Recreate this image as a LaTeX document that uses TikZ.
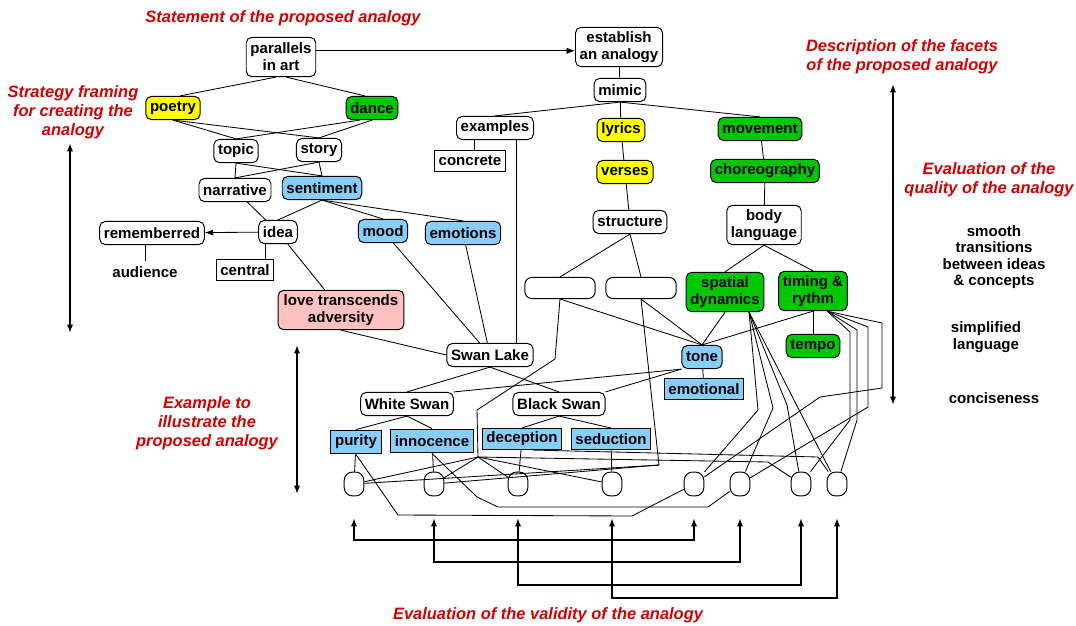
\documentclass[tikz,border=0pt]{standalone}
\usepackage{fontspec}
\setmainfont{Liberation Sans}
\usepackage{tikz}
\usetikzlibrary{arrows.meta}

\definecolor{hlyellow}{RGB}{255,255,0}
\definecolor{hlgreen}{RGB}{0,200,0}
\definecolor{hlblue}{RGB}{135,206,250}
\definecolor{hlpink}{RGB}{255,192,192}
\definecolor{titlered}{RGB}{210,0,0}

\begin{document}
\begin{tikzpicture}[x=0.025cm, y=-0.025cm, line width=0.6pt,
    >={Latex[length=6pt,width=4.5pt]},
    font=\fontsize{10.7}{12}\selectfont\bfseries,
    concept/.style={draw, rounded corners=4pt, line width=0.7pt, inner xsep=3pt, inner ysep=2pt, minimum height=16.5pt, align=center},
    twoline/.style={minimum height=28pt},
    term/.style={draw, line width=0.7pt, inner xsep=3pt, inner ysep=2pt, minimum height=15pt, align=center},
    blank/.style={draw, rounded corners=5pt, line width=0.7pt, minimum width=50pt, minimum height=15pt},
    slot/.style={draw, rounded corners=6pt, line width=0.7pt, minimum width=14pt, minimum height=17pt, inner sep=0pt},
    heading/.style={text=titlered, font=\fontsize{11.7}{13.5}\selectfont\bfseries\itshape, align=center},
    remark/.style={align=center, font=\fontsize{10.7}{11.7}\selectfont\bfseries},
    span/.style={<->, line width=1.4pt}]

    \useasboundingbox (0,0) rectangle (1076,625);

    % left part
    \node[concept, twoline] (parallels) at (281,57) {parallels\\in art};
    \node[concept, fill=hlyellow] (poetry) at (173,108) {poetry};
    \node[concept, fill=hlgreen] (dance) at (372,108) {dance};
    \node[concept] (topic) at (236,151) {topic};
    \node[concept] (story) at (319,150) {story};
    \node[concept] (narrative) at (235,190) {narrative};
    \node[concept, fill=hlblue] (sentiment) at (322,188) {sentiment};
    \node[concept] (idea) at (278,232) {idea};
    \node[concept] (remember) at (152,233) {rememberred};
    \node (audience) at (145,272) {audience};
    \node[term] (central) at (245,270) {central};
    \node[concept, fill=hlblue] (mood) at (383,231) {mood};
    \node[concept, fill=hlblue] (emotions) at (463,233) {emotions};
    \node[concept, twoline, fill=hlpink, inner xsep=4pt] (love) at (341,310) {love transcends\\adversity};
    \node[concept] (swanlake) at (490,355) {Swan Lake};

    % right part
    \node[concept, twoline] (establish) at (619,47) {establish\\an analogy};
    \node[concept] (mimic) at (620,90) {mimic};
    \node[concept] (examples) at (495,128) {examples};
    \node[term] (concrete) at (470,161) {concrete};
    \node[concept, fill=hlyellow] (lyrics) at (621,130) {lyrics};
    \node[concept, fill=hlyellow] (verses) at (625,172) {verses};
    \node[concept, fill=hlgreen] (movement) at (760,129) {movement};
    \node[concept, fill=hlgreen] (choreo) at (765,171) {choreography};
    \node[concept] (structure) at (630,222) {structure};
    \node[concept, twoline] (body) at (764,225) {body\\language};
    \node[blank] (blankA) at (560,288) {};
    \node[blank] (blankB) at (641,288) {};
    \node[concept, twoline, fill=hlgreen] (spatial) at (725,292) {spatial\\dynamics};
    \node[concept, twoline, fill=hlgreen] (timing) at (813,291) {timing \&\\rythm};
    \node[concept, fill=hlgreen] (tempo) at (813,346) {tempo};
    \node[concept, fill=hlblue] (tone) at (702,357) {tone};
    \node[term, fill=hlblue] (emotional) at (704,389) {emotional};

    % example
    \node[concept] (white) at (407,404) {White Swan};
    \node[concept] (black) at (559,404) {Black Swan};
    \node[term, fill=hlblue, minimum height=17pt] (purity) at (356,442) {purity};
    \node[term, fill=hlblue, minimum height=17pt] (innocence) at (432,441) {innocence};
    \node[term, fill=hlblue] (deception) at (522,439) {deception};
    \node[term, fill=hlblue] (seduction) at (611,439) {seduction};
    \foreach \x [count=\i] in {354,434,518,612,694,740,801,837}
        \node[slot] (val\i) at (\x,484) {};

    % labels
    \node[heading] (stmt) at (283,18) {Statement of the proposed analogy};
    \node[heading] (framing) at (73,112) {Strategy framing\\for creating the\\analogy};
    \node[heading] (facets) at (902,57) {Description of the facets\\of the proposed analogy};
    \node[heading] (quality) at (989,180) {Evaluation of the\\quality of the analogy};
    \node[heading] (illustrate) at (207,423) {Example to\\illustrate the\\proposed analogy};
    \node[heading] (validity) at (548,615) {Evaluation of the validity of the analogy};
    \node[remark] (smooth) at (994,257) {smooth\\transitions\\between ideas\\\& concepts};
    \node[remark] (simple) at (986,337) {simplified\\language};
    \node[remark] (concise) at (994,398) {conciseness};

    % left tree
    \draw[->] (parallels.10) -- (parallels.10 -| establish.west);
    \draw (parallels.-105) -- (poetry.60);
    \draw (parallels.-75) -- (dance.120);
    \draw (poetry.south) -- (topic.north);
    \draw (poetry.south) -- (story.north);
    \draw (dance.-135) -- (topic.north);
    \draw (dance.south) -- (story.north);
    \draw (topic.south) -- (narrative.north);
    \draw (topic.south) -- (sentiment.north);
    \draw (story.south) -- (narrative.north);
    \draw (story.south) -- (sentiment.north);
    \draw (narrative) -- (idea);
    \draw (sentiment.south) -- (idea.north);
    \draw (sentiment.south) -- (mood.north);
    \draw (sentiment.south) -- (emotions.north);
    \draw[->] (idea) -- (remember);
    \draw ([xshift=5pt]idea.south west) -- ([xshift=5pt]idea.south west |- central.north);
    \draw (remember.south -| audience) -- (audience.north);
    \draw (idea) -- (love);
    \draw (mood) -- (swanlake);
    \draw (emotions) -- (swanlake);
    \draw (love.south) -- (swanlake.west);
    \draw (examples.-30) -- (examples.-30 |- swanlake.north);
    \draw (examples.-150) -- (examples.-150 |- concrete.north);

    % right tree
    \draw (establish) -- (mimic);
    \draw (mimic.south) -- (examples.north);
    \draw (mimic) -- (lyrics);
    \draw (mimic.south) -- (movement.north);
    \draw (lyrics) -- (verses);
    \draw (verses) -- (structure);
    \draw (movement) -- (choreo);
    \draw (choreo) -- (body);
    \draw (structure.south) -- (blankA.north);
    \draw (structure.south) -- (blankB.north);
    \draw (body.south) -- (spatial.north);
    \draw (body.south) -- (timing.north);
    \draw (blankA.south) -- (tone.north);
    \draw (blankB.south) -- (tone.north);
    \draw (spatial.south) -- (tone.north);
    \draw (timing.south) -- (tone.north);
    \draw (timing) -- (tempo);
    \draw (tone) -- (emotional);
    \draw (tone.south west) -- (white.north east);
    \draw (tone.south west) -- (black.north east);

    % example tree
    \draw (swanlake.south) -- (white.north);
    \draw (swanlake.south) -- (black.north);
    \draw (white.south) -- (purity.north);
    \draw (white.south) -- (innocence.north);
    \draw (black.south) -- (deception.north);
    \draw (black.south) -- (seduction.north);
    \draw (purity) -- (val1);
    \draw (innocence) -- (val2);
    \draw (deception) -- (val3);
    \draw (seduction) -- (val4);
    \draw (purity.south) -- (398,515) -- (632,516) -- (val5);
    \draw (innocence.south) -- (477,497) -- (498,507) -- (708,507) -- (val6);

    % forks to the bottom
    \coordinate (forkA) at (478,457);
    \coordinate (forkB) at (659,465);
    \draw (blankA.south) -- (555,359) -- (477,410) -- (forkA);
    \draw (blankB.south) -- (forkB);
    \draw (forkA) -- (val1);
    \draw (forkA) -- (val2);
    \draw (forkA) -- (val3);
    \draw (forkA) -- (val4);
    \draw (forkA) -- (768,462) -- (val7);
    \draw (forkB) -- (val1);
    \draw (forkB) -- (val2);
    \draw (deception.-45) -- (818,457) -- (val8);

    \draw (spatial.-40) -- (758,410) -- (val5);
    \draw (spatial.-40) -- (773,408) -- (val6);
    \draw (spatial.-40) -- (787,405) -- (val7);
    \draw (spatial.-40) -- (val8);
    \draw (timing.-55) -- (850,332) -- (850,420) -- (val7);
    \draw (timing.-55) -- (857,330) -- (857,420) -- (val8);
    \draw (timing.-55) -- (868,327) -- (868,407) -- (val6);
    \draw (timing.-55) -- (882,323) -- (882,388) -- (820,397) -- (val5);

    % evaluation brackets
    \coordinate (tips) at (0,518);
    \coordinate (barA) at (0,540);
    \coordinate (barB) at (0,562);
    \coordinate (barC) at (0,585);
    \coordinate (barD) at (0,598);
    \draw[span] (val1 |- tips) -- (val1 |- barA) -- (val5 |- barA) -- (val5 |- tips);
    \draw[span] (val2 |- tips) -- (val2 |- barB) -- (val6 |- barB) -- (val6 |- tips);
    \draw[span] (val3 |- tips) -- (val3 |- barC) -- (val7 |- barC) -- (val7 |- tips);
    \draw[span] (val4 |- tips) -- (val4 |- barD) -- (val8 |- barD) -- (val8 |- tips);

    % side arrows
    \coordinate (leftTop) at (70,143);
    \coordinate (leftBot) at (70,333);
    \coordinate (midTop) at (297,345);
    \coordinate (midBot) at (297,494);
    \coordinate (rightTop) at (893,84);
    \coordinate (rightBot) at (893,405);
    \draw[span] (leftTop) -- (leftBot);
    \draw[span] (midTop) -- (midBot);
    \draw[span] (rightTop) -- (rightBot);

\end{tikzpicture}
\end{document}
